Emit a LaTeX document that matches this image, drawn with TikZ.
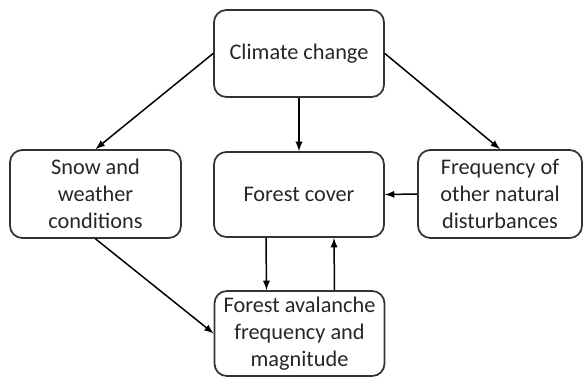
\documentclass[tikz,border=0pt]{standalone}
\usepackage{fontspec}
\setmainfont{Carlito}
\begin{document}
\begin{tikzpicture}[scale=0.2]
                        \tikzstyle{every node}+=[inner sep=0pt]
                        \tikzstyle{box}=[draw=black!80, line width=1pt, rounded corners=7pt, minimum width=3.4cm, minimum height=1.74cm, align=center, text=black!85, font=\fontsize{12.7}{15.4}\selectfont]
                        \tikzstyle{link}=[black, line width=0.85pt, -latex]
                        \useasboundingbox (0,0) rectangle (58.4,-37.7);
                        \node [box] (climate) at (29.9,-5.35) {Climate change};
                        \node [box, minimum width=3.42cm, minimum height=1.76cm] (snow) at (9.55,-19.4) {Snow and\\weather\\conditions};
                        \node [box, minimum height=1.7cm] (forest) at (29.9,-19.45) {Forest cover};
                        \node [box, minimum width=3.28cm, minimum height=1.76cm] (freq) at (50,-19.4) {Frequency of\\other natural\\disturbances};
                        \node [box, minimum height=1.7cm] (aval) at (29.95,-33.35) {Forest avalanche\\frequency and\\magnitude};
                        \draw [link] (climate.west) -- (snow.north);
                        \draw [link] (climate.south) -- (forest.north);
                        \draw [link] (climate.east) -- (freq.north);
                        \draw [link] (freq.west) -- (forest.east);
                        \draw [link] (snow.south) -- (aval.west);
                        \draw [link] ([xshift=-3.3cm]forest.south) -- ([xshift=-3.3cm]aval.north);
                        \draw [link] ([xshift=3.5cm]aval.north) -- ([xshift=3.5cm]forest.south);
                    \end{tikzpicture}
\end{document}
